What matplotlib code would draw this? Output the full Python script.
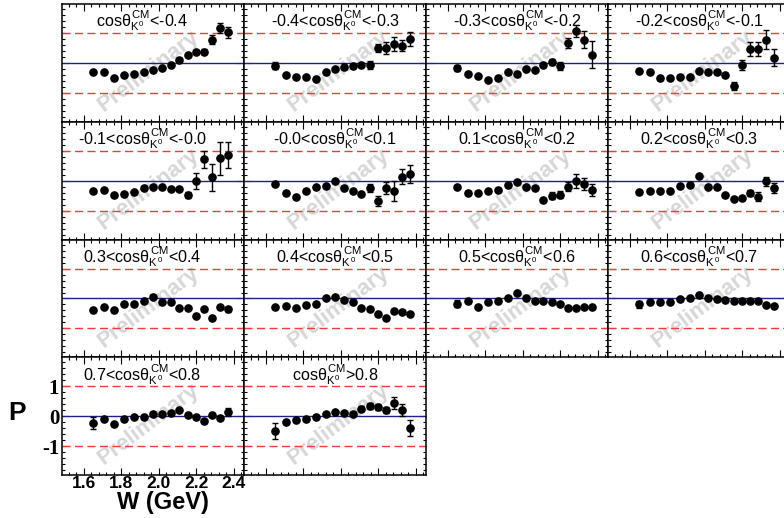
import matplotlib
matplotlib.use('Agg')
import matplotlib.pyplot as plt
from matplotlib.ticker import MultipleLocator, NullFormatter

plt.rcParams['font.family'] = ['Liberation Sans', 'DejaVu Sans']
plt.rcParams['mathtext.fontset'] = 'custom'
plt.rcParams['mathtext.rm'] = 'Liberation Sans'
plt.rcParams['mathtext.it'] = 'Liberation Sans'
plt.rcParams['mathtext.bf'] = 'Liberation Sans:bold'
plt.rcParams['axes.unicode_minus'] = False

# W 값 (GeV), 모든 패널 공통
W = [1.650, 1.707, 1.762, 1.815, 1.869, 1.921, 1.970, 2.018,
     2.065, 2.111, 2.154, 2.199, 2.242, 2.284, 2.327, 2.370]

# cos 범위 라벨
lows = [None, '-0.4', '-0.3', '-0.2', '-0.1', '-0.0', '0.1', '0.2',
        '0.3', '0.4', '0.5', '0.6', '0.7', '0.8']
highs = ['-0.4', '-0.3', '-0.2', '-0.1', '-0.0', '0.1', '0.2', '0.3',
         '0.4', '0.5', '0.6', '0.7', '0.8', None]

# 편극 P 값과 오차
P1 = [-0.29, -0.32, -0.52, -0.41, -0.36, -0.31, -0.24, -0.16, -0.07, 0.11, 0.27, 0.36, 0.38, 0.78, 1.18, 1.02]
E1 = [0.05, 0.05, 0.05, 0.05, 0.05, 0.05, 0.05, 0.05, 0.05, 0.05, 0.06, 0.06, 0.09, 0.14, 0.17, 0.18]
P2 = [-0.09, -0.41, -0.48, -0.48, -0.53, -0.32, -0.22, -0.14, -0.12, -0.07, -0.08, 0.50, 0.50, 0.63, 0.58, 0.80]
E2 = [0.13, 0.05, 0.05, 0.05, 0.05, 0.05, 0.05, 0.05, 0.05, 0.06, 0.13, 0.14, 0.19, 0.22, 0.17, 0.24]
P3 = [-0.17, -0.37, -0.44, -0.56, -0.52, -0.31, -0.36, -0.19, -0.23, -0.06, 0.03, -0.11, 0.67, 1.08, 0.78, 0.28]
E3 = [0.11, 0.05, 0.05, 0.05, 0.05, 0.05, 0.05, 0.05, 0.05, 0.06, 0.11, 0.13, 0.17, 0.20, 0.28, 0.44]
P4 = [-0.26, -0.29, -0.51, -0.51, -0.46, -0.46, -0.27, -0.31, -0.31, -0.40, -0.78, -0.06, 0.47, 0.47, 0.78, 0.17]
E4 = [0.05, 0.05, 0.05, 0.05, 0.05, 0.05, 0.05, 0.05, 0.05, 0.06, 0.13, 0.17, 0.24, 0.24, 0.33, 0.28]
P5 = [-0.36, -0.32, -0.49, -0.45, -0.38, -0.25, -0.20, -0.22, -0.27, -0.27, -0.48, -0.02, 0.71, 0.11, 0.75, 0.85]
E5 = [0.05, 0.05, 0.05, 0.05, 0.05, 0.05, 0.05, 0.05, 0.05, 0.05, 0.11, 0.27, 0.27, 0.46, 0.55, 0.44]
P6 = [-0.11, -0.41, -0.55, -0.34, -0.22, -0.18, -0.02, -0.23, -0.36, -0.44, -0.25, -0.67, -0.25, -0.35, 0.14, 0.22]
E6 = [0.05, 0.05, 0.05, 0.05, 0.05, 0.05, 0.05, 0.05, 0.05, 0.05, 0.13, 0.16, 0.20, 0.33, 0.24, 0.31]
P7 = [-0.20, -0.40, -0.41, -0.35, -0.30, -0.16, -0.03, -0.20, -0.23, -0.63, -0.50, -0.47, -0.20, -0.01, -0.11, -0.30]
E7 = [0.05, 0.05, 0.05, 0.05, 0.05, 0.05, 0.05, 0.05, 0.05, 0.05, 0.11, 0.11, 0.16, 0.22, 0.20, 0.20]
P8 = [-0.38, -0.34, -0.33, -0.34, -0.19, -0.14, 0.16, -0.20, -0.22, -0.48, -0.60, -0.58, -0.41, -0.53, -0.02, -0.24]
E8 = [0.05, 0.05, 0.05, 0.05, 0.05, 0.05, 0.05, 0.05, 0.05, 0.05, 0.05, 0.06, 0.11, 0.16, 0.16, 0.16]
P9 = [-0.39, -0.28, -0.39, -0.17, -0.19, -0.09, 0.06, -0.13, -0.11, -0.32, -0.32, -0.57, -0.36, -0.66, -0.28, -0.36]
E9 = [0.05, 0.05, 0.05, 0.05, 0.05, 0.05, 0.05, 0.05, 0.05, 0.05, 0.05, 0.05, 0.05, 0.05, 0.06, 0.09]
P10 = [-0.29, -0.24, -0.32, -0.21, -0.19, 0.03, 0.06, -0.04, -0.11, -0.32, -0.36, -0.52, -0.66, -0.43, -0.44, -0.52]
E10 = [0.05, 0.05, 0.05, 0.05, 0.05, 0.05, 0.05, 0.05, 0.05, 0.05, 0.05, 0.05, 0.05, 0.05, 0.05, 0.06]
P11 = [-0.17, -0.10, -0.27, -0.11, -0.10, 0.01, 0.17, 0.00, -0.08, -0.08, -0.11, -0.17, -0.33, -0.33, -0.29, -0.28]
E11 = [0.11, 0.05, 0.05, 0.05, 0.05, 0.05, 0.05, 0.05, 0.05, 0.05, 0.05, 0.05, 0.05, 0.05, 0.05, 0.05]
P12 = [-0.20, -0.13, -0.13, -0.11, -0.03, 0.00, 0.12, 0.02, -0.02, -0.06, -0.10, -0.10, -0.10, -0.10, -0.21, -0.24]
E12 = [0.13, 0.05, 0.05, 0.05, 0.05, 0.05, 0.05, 0.05, 0.05, 0.05, 0.05, 0.05, 0.05, 0.05, 0.05, 0.05]
P13 = [-0.24, -0.08, -0.27, -0.10, -0.02, -0.02, 0.08, 0.08, 0.11, 0.20, 0.03, -0.04, -0.16, 0.04, -0.06, 0.14]
E13 = [0.20, 0.05, 0.05, 0.05, 0.05, 0.05, 0.05, 0.05, 0.05, 0.05, 0.05, 0.05, 0.05, 0.05, 0.06, 0.13]
P14 = [-0.49, -0.19, -0.13, -0.10, -0.02, 0.08, 0.13, 0.10, 0.08, 0.26, 0.33, 0.31, 0.22, 0.44, 0.20, -0.39]
E14 = [0.28, 0.06, 0.05, 0.05, 0.05, 0.05, 0.05, 0.05, 0.05, 0.07, 0.10, 0.11, 0.10, 0.20, 0.20, 0.28]

Ps = [P1, P2, P3, P4, P5, P6, P7, P8, P9, P10, P11, P12, P13, P14]
Es = [E1, E2, E3, E4, E5, E6, E7, E8, E9, E10, E11, E12, E13, E14]

# 패널 배치 (픽셀 단위)
FW, FH = 784, 518
col_left = [62, 244, 426, 608]
row_top = [4, 121.8, 239.6, 357.4]
pw, ph = 182, 117.8

fig = plt.figure(figsize=(FW / 100, FH / 100), dpi=100)

for i in range(14):
    r, c = divmod(i, 4)
    ax = fig.add_axes([col_left[c] / FW, 1 - (row_top[r] + ph) / FH, pw / FW, ph / FH])
    ax.set_xlim(1.485, 2.455)
    ax.set_ylim(-1.97, 1.97)

    ax.axhline(0, color='#1f1f8c', lw=1.0, zorder=2)
    for yv in (1, -1):
        ax.axhline(yv, color='#f23a3a', lw=1.0, ls=(0, (5.8, 3.2)), zorder=2)

    ax.errorbar(W, Ps[i], yerr=Es[i], fmt='o', color='k', ms=5.2,
                elinewidth=1, capsize=2, capthick=1, zorder=3)

    # 라벨
    if lows[i] is None:
        lab = r'cos$\theta^{CM}_{K^{0}}$<' + highs[i]
    elif highs[i] is None:
        lab = r'cos$\theta^{CM}_{K^{0}}$>' + lows[i]
    else:
        lab = lows[i] + r'<cos$\theta^{CM}_{K^{0}}$<' + highs[i]
    tx = 0.442 if c == 0 else 0.5
    ax.text(tx, 0.805, lab, transform=ax.transAxes, ha='center', va='baseline',
            fontsize=11.6, zorder=4)

    wx = 0.473 if c == 0 else 0.52
    ax.text(wx, 0.43, 'Preliminary', transform=ax.transAxes, ha='center', va='center',
            rotation=37, fontsize=16, fontweight='bold', color='#d6d6d6', zorder=0)

    ax.xaxis.set_major_locator(MultipleLocator(0.2))
    ax.xaxis.set_minor_locator(MultipleLocator(0.04))
    ax.yaxis.set_major_locator(MultipleLocator(1))
    ax.yaxis.set_minor_locator(MultipleLocator(0.2))
    ax.tick_params(which='both', direction='in', top=True, right=True, width=0.8)
    ax.tick_params(which='major', length=5)
    ax.tick_params(which='minor', length=2.5)
    for s in ax.spines.values():
        s.set_linewidth(1.1)

    if i == 12:
        ax.set_xticks([1.6, 1.8, 2.0, 2.2, 2.4])
        ax.set_xticklabels(['1.6', '1.8', '2.0', '2.2', '2.4'],
                           fontsize=12.5, fontweight='bold')
        ax.set_yticks([-1, 0, 1])
        ax.set_yticklabels(['-1', '0', '1'], fontsize=15, fontweight='bold',
                           family='Liberation Serif')
        ax.tick_params(axis='x', pad=0.5)
        ax.tick_params(axis='y', pad=2)
    else:
        ax.xaxis.set_major_formatter(NullFormatter())
        ax.yaxis.set_major_formatter(NullFormatter())

fig.text(17 / FW, 1 - 413 / FH, 'P', fontsize=19, fontweight='bold', ha='center', va='center')
fig.text(162.5 / FW, 1 - 491 / FH, 'W (GeV)', fontsize=17, fontweight='bold',
         ha='center', va='top')

fig.savefig('out.png', dpi=100)
